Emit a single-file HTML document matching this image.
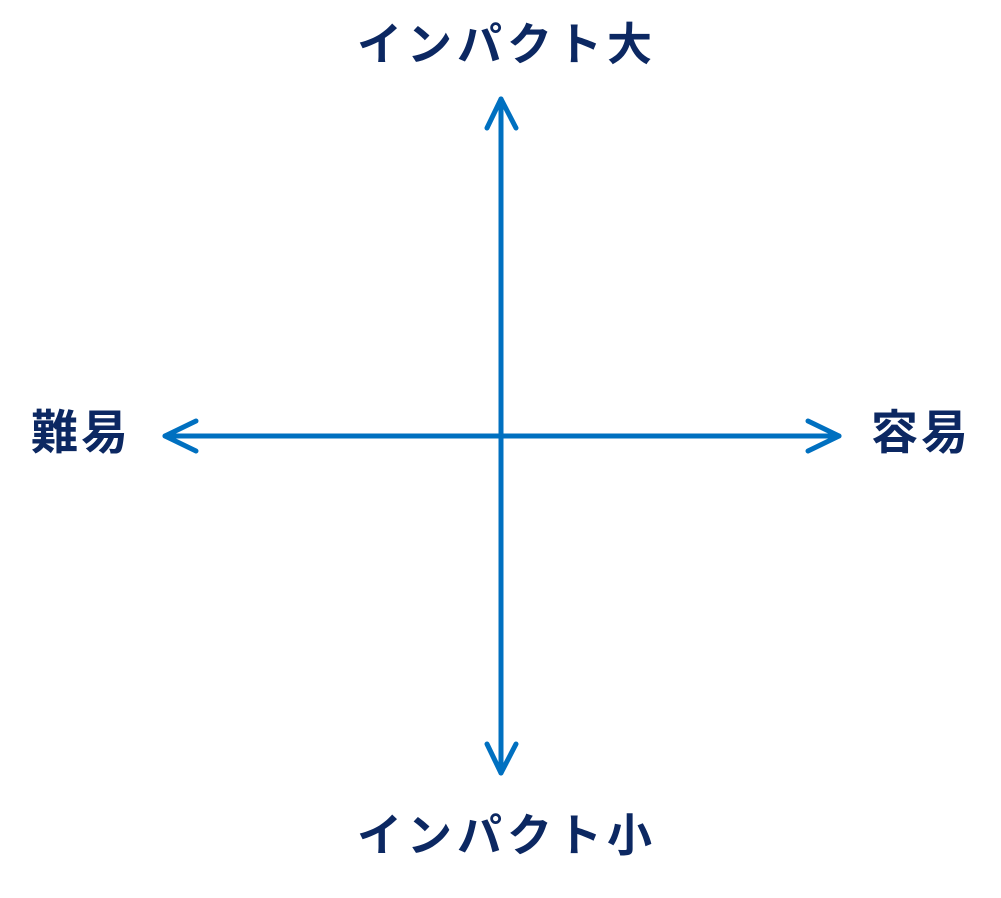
<!DOCTYPE html>
<html><head><meta charset="utf-8"><style>
html,body{margin:0;padding:0;background:#fff;width:1001px;height:898px;overflow:hidden}
.t{position:absolute;font-family:"Liberation Sans","Noto Sans CJK JP",sans-serif;font-weight:bold;color:#0c2862;font-size:45px;line-height:1;white-space:nowrap}
</style></head><body>
<svg width="1001" height="898" style="position:absolute;left:0;top:0">
<g stroke="#0070c0" stroke-width="5" fill="none" stroke-linecap="round" stroke-linejoin="round">
<line x1="501" y1="99" x2="501" y2="773"/>
<line x1="165" y1="436" x2="839" y2="436"/>
<polyline points="487,128 501,99 516,128"/>
<polyline points="487,744 501,773 516,744"/>
<polyline points="196,421 165,436 196,451"/>
<polyline points="808,421 839,436 808,451"/>
</g></svg>
<div class="t" style="left:357px;top:22px;letter-spacing:5px">インパクト大</div>
<div class="t" style="left:357px;top:813px;letter-spacing:5px">インパクト小</div>
<div class="t" style="left:31px;top:409px;letter-spacing:3px;font-size:47px">難易</div>
<div class="t" style="left:871px;top:409px;letter-spacing:3px;font-size:47px">容易</div>
</body></html>
